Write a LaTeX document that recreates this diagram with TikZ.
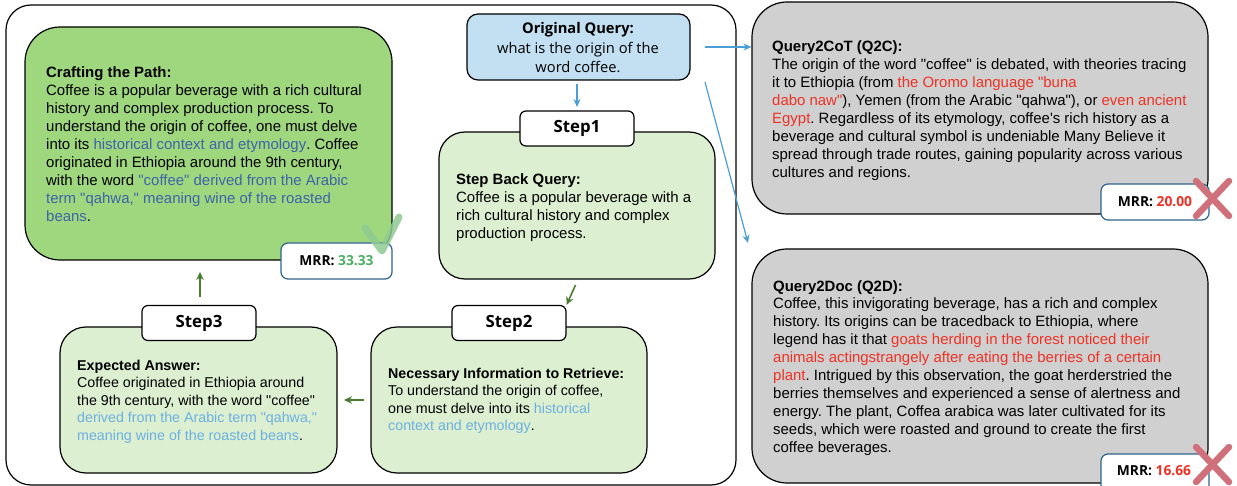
\documentclass[tikz,border=0pt]{standalone}
\usepackage{fontspec}
\setmainfont{Liberation Sans}[Ligatures=TeXOff]
\newfontfamily\aptosfont{Open Sans}
\usetikzlibrary{arrows.meta}
\definecolor{pathgreen}{HTML}{9FD77F}
\definecolor{stepgreen}{HTML}{DCEFD0}
\definecolor{queryblue}{HTML}{C2E0F1}
\definecolor{graybox}{HTML}{D0D0D0}
\definecolor{deepblue}{HTML}{3F63A8}
\definecolor{lightblue}{HTML}{6CB0E2}
\definecolor{redtext}{HTML}{EE3124}
\definecolor{greentext}{HTML}{4CAF63}
\definecolor{mrrborder}{HTML}{2F6389}
\definecolor{arrowblue}{HTML}{4A9FD6}
\definecolor{arrowgreen}{HTML}{4A7C32}
\definecolor{crosscol}{HTML}{D0707A}
\definecolor{checkcol}{HTML}{8FCB92}
\newcommand{\dr}[1]{\textcolor{deepblue}{#1}}
\newcommand{\lb}[1]{\textcolor{lightblue}{#1}}
\newcommand{\rd}[1]{\textcolor{redtext}{#1}}
\tikzset{
  x=1pt,y=-1pt,
  roundbox/.style={draw=black,line width=1.2pt,rectangle,inner sep=0pt},
  mainbox/.style={roundbox,rounded corners=35pt},
  stepcard/.style={roundbox,fill=stepgreen,rounded corners=26pt},
  steplabel/.style={roundbox,fill=white,rounded corners=6pt,minimum width=114pt,minimum height=35pt,font=\aptosfont\fontsize{16.8}{18}\selectfont\bfseries},
  mrrbox/.style={draw=mrrborder,line width=1.2pt,fill=white,rectangle,rounded corners=7pt,minimum width=108pt,minimum height=36pt,inner sep=0pt,font=\aptosfont\fontsize{13.8}{15}\selectfont\bfseries},
  body/.style={anchor=north west,inner sep=0pt,align=left,font=\fontsize{14.95}{18}\selectfont\frenchspacing,text=black},
  smallbody/.style={body,font=\fontsize{14.25}{17.4}\selectfont\frenchspacing},
  bluearrow/.style={draw=arrowblue,line width=1.2pt,-{Stealth[length=8pt,width=7pt]}},
  greenarrow/.style={draw=arrowgreen,line width=1.6pt,-{Stealth[length=8pt,width=7.5pt]}},
  crossmark/.style={draw=crosscol,line width=6.5pt,line cap=round},
  checkmark/.style={draw=checkcol,line width=7pt,line cap=round,line join=round,opacity=.85},
}
\begin{document}
\begin{tikzpicture}
\path[use as bounding box] (0,0) rectangle (1237,486);
\clip (0,0) rectangle (1237,486);
\fill[white] (0,0) rectangle (1237,486);
% outer frame
\node[roundbox,rounded corners=25pt,minimum width=730pt,minimum height=480pt] (frame) at (371,245) {};
% top right
\node[mainbox,fill=graybox,minimum width=456pt,minimum height=212pt] (q2c) at (980,108) {};
\node[mainbox,fill=graybox,minimum width=456pt,minimum height=234pt] (q2d) at (980,366) {};
% crafting
\node[mainbox,fill=pathgreen,minimum width=367pt,minimum height=233pt] (path) at (208.5,143.5) {};
% query
\node[roundbox,fill=queryblue,rounded corners=11pt,minimum width=223pt,minimum height=66pt] (query) at (578.5,47) {};
% steps
\node[stepcard,minimum width=276pt,minimum height=147pt] (card1) at (577,205.5) {};
\node[steplabel] (step1) at (577,128.5) {Step1};
\node[stepcard,minimum width=276pt,minimum height=146pt] (card2) at (509,400) {};
\node[steplabel] (step2) at (509,323) {Step2};
\node[stepcard,minimum width=277pt,minimum height=146pt] (card3) at (198.5,400) {};
\node[steplabel] (step3) at (199,323) {Step3};
% text
\node[anchor=north,inner sep=0pt,align=center,font=\aptosfont\fontsize{14.7}{19.3}\selectfont,text=black] (querytext) at (578,22.5)
 {\textbf{Original Query:}\\what is the origin of the\\word coffee.};
\node[body] (pathtext) at (46,66)
 {\textbf{Crafting the Path:}\\Coffee is a popular beverage with a rich cultural\\history and complex production process. To\\understand the origin of coffee, one must delve\\into its \dr{historical context and etymology}. Coffee\\originated in Ethiopia around the 9th century,\\with the word \dr{"coffee" derived from the Arabic}\\\dr{term "qahwa," meaning wine of the roasted}\\\dr{beans}.};
\node[body] (text1) at (456,173)
 {\textbf{Step Back Query:}\\Coffee is a popular beverage with a\\rich cultural history and complex\\production process.};
\node[smallbody] (text2) at (388,368)
 {\textbf{Necessary Information to Retrieve:}\\To understand the origin of coffee,\\one must delve into its \lb{historical}\\\lb{context and etymology}.};
\node[smallbody] (text3) at (77,360)
 {\textbf{Expected Answer:}\\Coffee originated in Ethiopia around\\the 9th century, with the word "coffee"\\\lb{derived from the Arabic term "qahwa,"}\\\lb{meaning wine of the roasted beans}.};
\node[body] (q2ctext) at (772,40)
 {\textbf{Query2CoT (Q2C):}\\The origin of the word "coffee" is debated, with theories tracing\\it to Ethiopia (from \rd{the Oromo language "buna}\\\rd{dabo naw"}), Yemen (from the Arabic "qahwa"), or \rd{even ancient}\\\rd{Egypt}. Regardless of its etymology, coffee's rich history as a\\beverage and cultural symbol is undeniable Many Believe it\\spread through trade routes, gaining popularity across various\\cultures and regions.};
\node[body,font=\fontsize{14.95}{17.9}\selectfont\frenchspacing] (q2dtext) at (773,280)
 {\textbf{Query2Doc (Q2D):}\\Coffee, this invigorating beverage, has a rich and complex\\history. Its origins can be tracedback to Ethiopia, where\\legend has it that \rd{goats herding in the forest noticed their}\\\rd{animals actingstrangely after eating the berries of a certain}\\\rd{plant}. Intrigued by this observation, the goat herderstried the\\berries themselves and experienced a sense of alertness and\\energy. The plant, Coffea arabica was later cultivated for its\\seeds, which were roasted and ground to create the first\\coffee beverages.};
% MRR badges
\node[mrrbox,minimum width=111pt] (mrrpath) at (336.5,261) {MRR: \textcolor{greentext}{33.33}};
\node[mrrbox] (mrrq2c) at (1155,202) {MRR: \textcolor{redtext}{20.00}};
\node[mrrbox,minimum height=50pt] (mrrq2d) at (1155,479) {};
\node[anchor=center,inner sep=0pt,font=\aptosfont\fontsize{13.8}{15}\selectfont\bfseries] (mrrq2dtext) at (1154,471) {MRR: \textcolor{redtext}{16.66}};
% marks
\coordinate (ca) at (365,228); \coordinate (cb) at (382,251); \coordinate (cc) at (399,217);
\draw[checkmark] (ca) -- (cb) -- (cc);
\coordinate (xa1) at (1196,181); \coordinate (xa2) at (1229,216);
\coordinate (xa3) at (1229,181); \coordinate (xa4) at (1196,216);
\draw[crossmark] (xa1) -- (xa2); \draw[crossmark] (xa3) -- (xa4);
\coordinate (xb1) at (1196,447); \coordinate (xb2) at (1229,482);
\coordinate (xb3) at (1229,447); \coordinate (xb4) at (1196,482);
\draw[crossmark] (xb1) -- (xb2); \draw[crossmark] (xb3) -- (xb4);
% connectors
\coordinate (qs) at (577,84); \coordinate (qe) at (577,107);
\draw[bluearrow] (qs) -- (qe);
\coordinate (qr) at (705,47);
\draw[bluearrow] (qr) -- (q2c.west |- qr);
\coordinate (qd) at (705,82); \coordinate (qde) at (748,243);
\draw[bluearrow] (qd) -- (qde);
\coordinate (g1) at (575.5,285);
\draw[greenarrow] (g1) -- (step2.north east);
\coordinate (g2s) at (364,400); \coordinate (g2e) at (344,400);
\draw[greenarrow] (g2s) -- (g2e);
\coordinate (g3s) at (200,297); \coordinate (g3e) at (200,272);
\draw[greenarrow] (g3s) -- (g3e);
\end{tikzpicture}
\end{document}
